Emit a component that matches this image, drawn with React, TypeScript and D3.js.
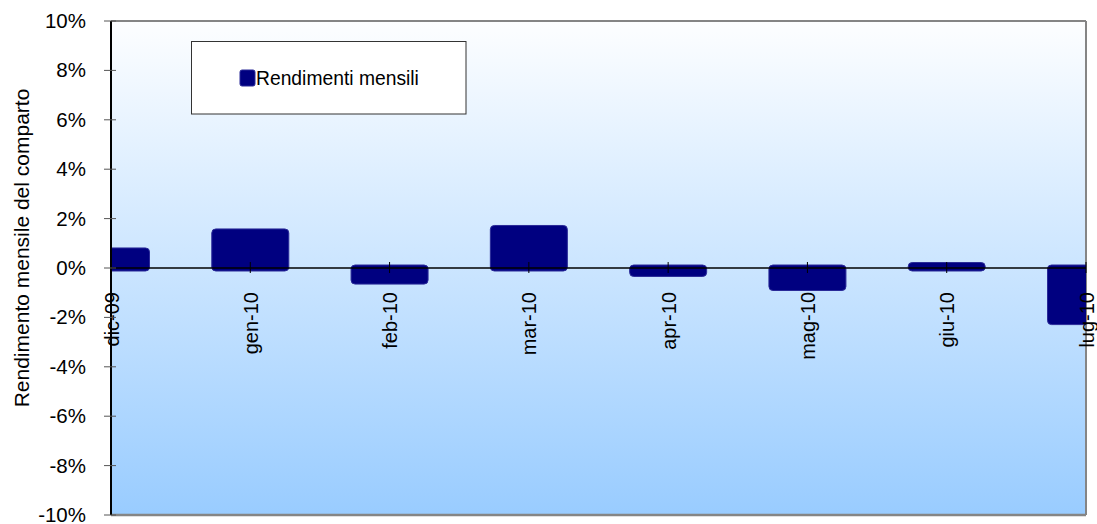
import * as d3 from "d3";

// monthly returns of the fund (%)
const months = ["dic-09", "gen-10", "feb-10", "mar-10", "apr-10", "mag-10", "giu-10", "lug-10"];
const returns = [0.69, 1.46, -0.53, 1.6, -0.22, -0.79, 0.1, -2.17];
const yTicks = [-10, -8, -6, -4, -2, 0, 2, 4, 6, 8, 10];
const seriesName = "Rendimenti mensili";
const yTitle = "Rendimento mensile del comparto";

export default function App() {
  const width = 1097;
  const height = 524;
  const margin = { top: 21, right: 11, bottom: 9, left: 111 };
  const font = "'Liberation Sans', Arial, sans-serif";

  const x = d3
    .scalePoint<string>()
    .domain(months)
    .range([margin.left, width - margin.right]);

  const y = d3
    .scaleLinear()
    .domain([-10, 10])
    .range([height - margin.bottom, margin.top]);

  const barW = 77;
  const pad = 3; // Excel draws the rounded bars a bit past the zero line
  const y0 = y(0);

  return (
    <svg
      width={width}
      height={height}
      style={{ position: "absolute", left: 0, top: 0, background: "#fff" }}
      fontFamily={font}
    >
      <defs>
        <linearGradient id="bg" x1="0" y1="0" x2="0" y2="1">
          <stop offset="0%" stopColor="#fdfeff" />
          <stop offset="100%" stopColor="#99ccff" />
        </linearGradient>
        <clipPath id="plot">
          <rect x={margin.left} y={margin.top} width={width - margin.right - margin.left} height={y(-10) - y(10)} />
        </clipPath>
      </defs>

      {/* plot area */}
      <rect
        x={margin.left}
        y={margin.top}
        width={width - margin.right - margin.left}
        height={y(-10) - y(10)}
        fill="url(#bg)"
      />
      <line x1={margin.left} x2={width - margin.right} y1={y(10)} y2={y(10)} stroke="#858585" strokeWidth={2} />
      <line x1={width - margin.right} x2={width - margin.right} y1={y(10)} y2={y(-10)} stroke="#858585" strokeWidth={2} />
      <line x1={margin.left} x2={width - margin.right} y1={y(-10)} y2={y(-10)} stroke="#858585" strokeWidth={2.5} />

      {/* bars */}
      <g clipPath="url(#plot)">
        {months.map((m, i) => {
          const v = returns[i];
          const top = Math.min(y(v), y0) - pad;
          const bot = Math.max(y(v), y0) + pad;
          return (
            <rect
              key={m}
              x={(x(m) ?? 0) - barW / 2}
              y={top}
              width={barW}
              height={bot - top}
              rx={4}
              fill="#000080"
              stroke="#2a2a98"
              strokeWidth={1}
            />
          );
        })}
      </g>

      {/* x axis on zero */}
      <line x1={margin.left} x2={width - margin.right} y1={y0} y2={y0} stroke="#000" strokeWidth={1.5} />
      {months.map((m) => (
        <g key={m}>
          <line x1={x(m)} x2={x(m)} y1={y0 - 6} y2={y0 + 5} stroke="#000" strokeWidth={1} />
          <text
            transform={`translate(${(x(m) ?? 0) + 7.5},${y0 + 24}) rotate(-90)`}
            textAnchor="end"
            fontSize={20}
            fill="#000"
          >
            {m}
          </text>
        </g>
      ))}

      {/* y axis */}
      <line x1={margin.left} x2={margin.left} y1={y(10)} y2={y(-10)} stroke="#000" strokeWidth={2} />
      {yTicks.map((t) => (
        <g key={t}>
          <line x1={margin.left - 7} x2={margin.left + 5} y1={y(t)} y2={y(t)} stroke="#555" strokeWidth={1} />
          <text x={86} y={y(t)} dy="0.34em" textAnchor="end" fontSize={20.5} fill="#000">
            {`${t}%`}
          </text>
        </g>
      ))}
      <text
        transform={`translate(28.5,${(y(10) + y(-10)) / 2 - 20}) rotate(-90)`}
        textAnchor="middle"
        fontSize={21}
        fill="#000"
      >
        {yTitle}
      </text>

      {/* legend */}
      <rect x={191.5} y={41.5} width={274.5} height={72.5} fill="#fff" stroke="#333" strokeWidth={1} />
      <rect x={240} y={70} width={15} height={16} rx={2} fill="#000080" stroke="#2a2a98" strokeWidth={1} />
      <text x={256} y={78} dy="0.36em" fontSize={19.3} fill="#000">
        {seriesName}
      </text>
    </svg>
  );
}
